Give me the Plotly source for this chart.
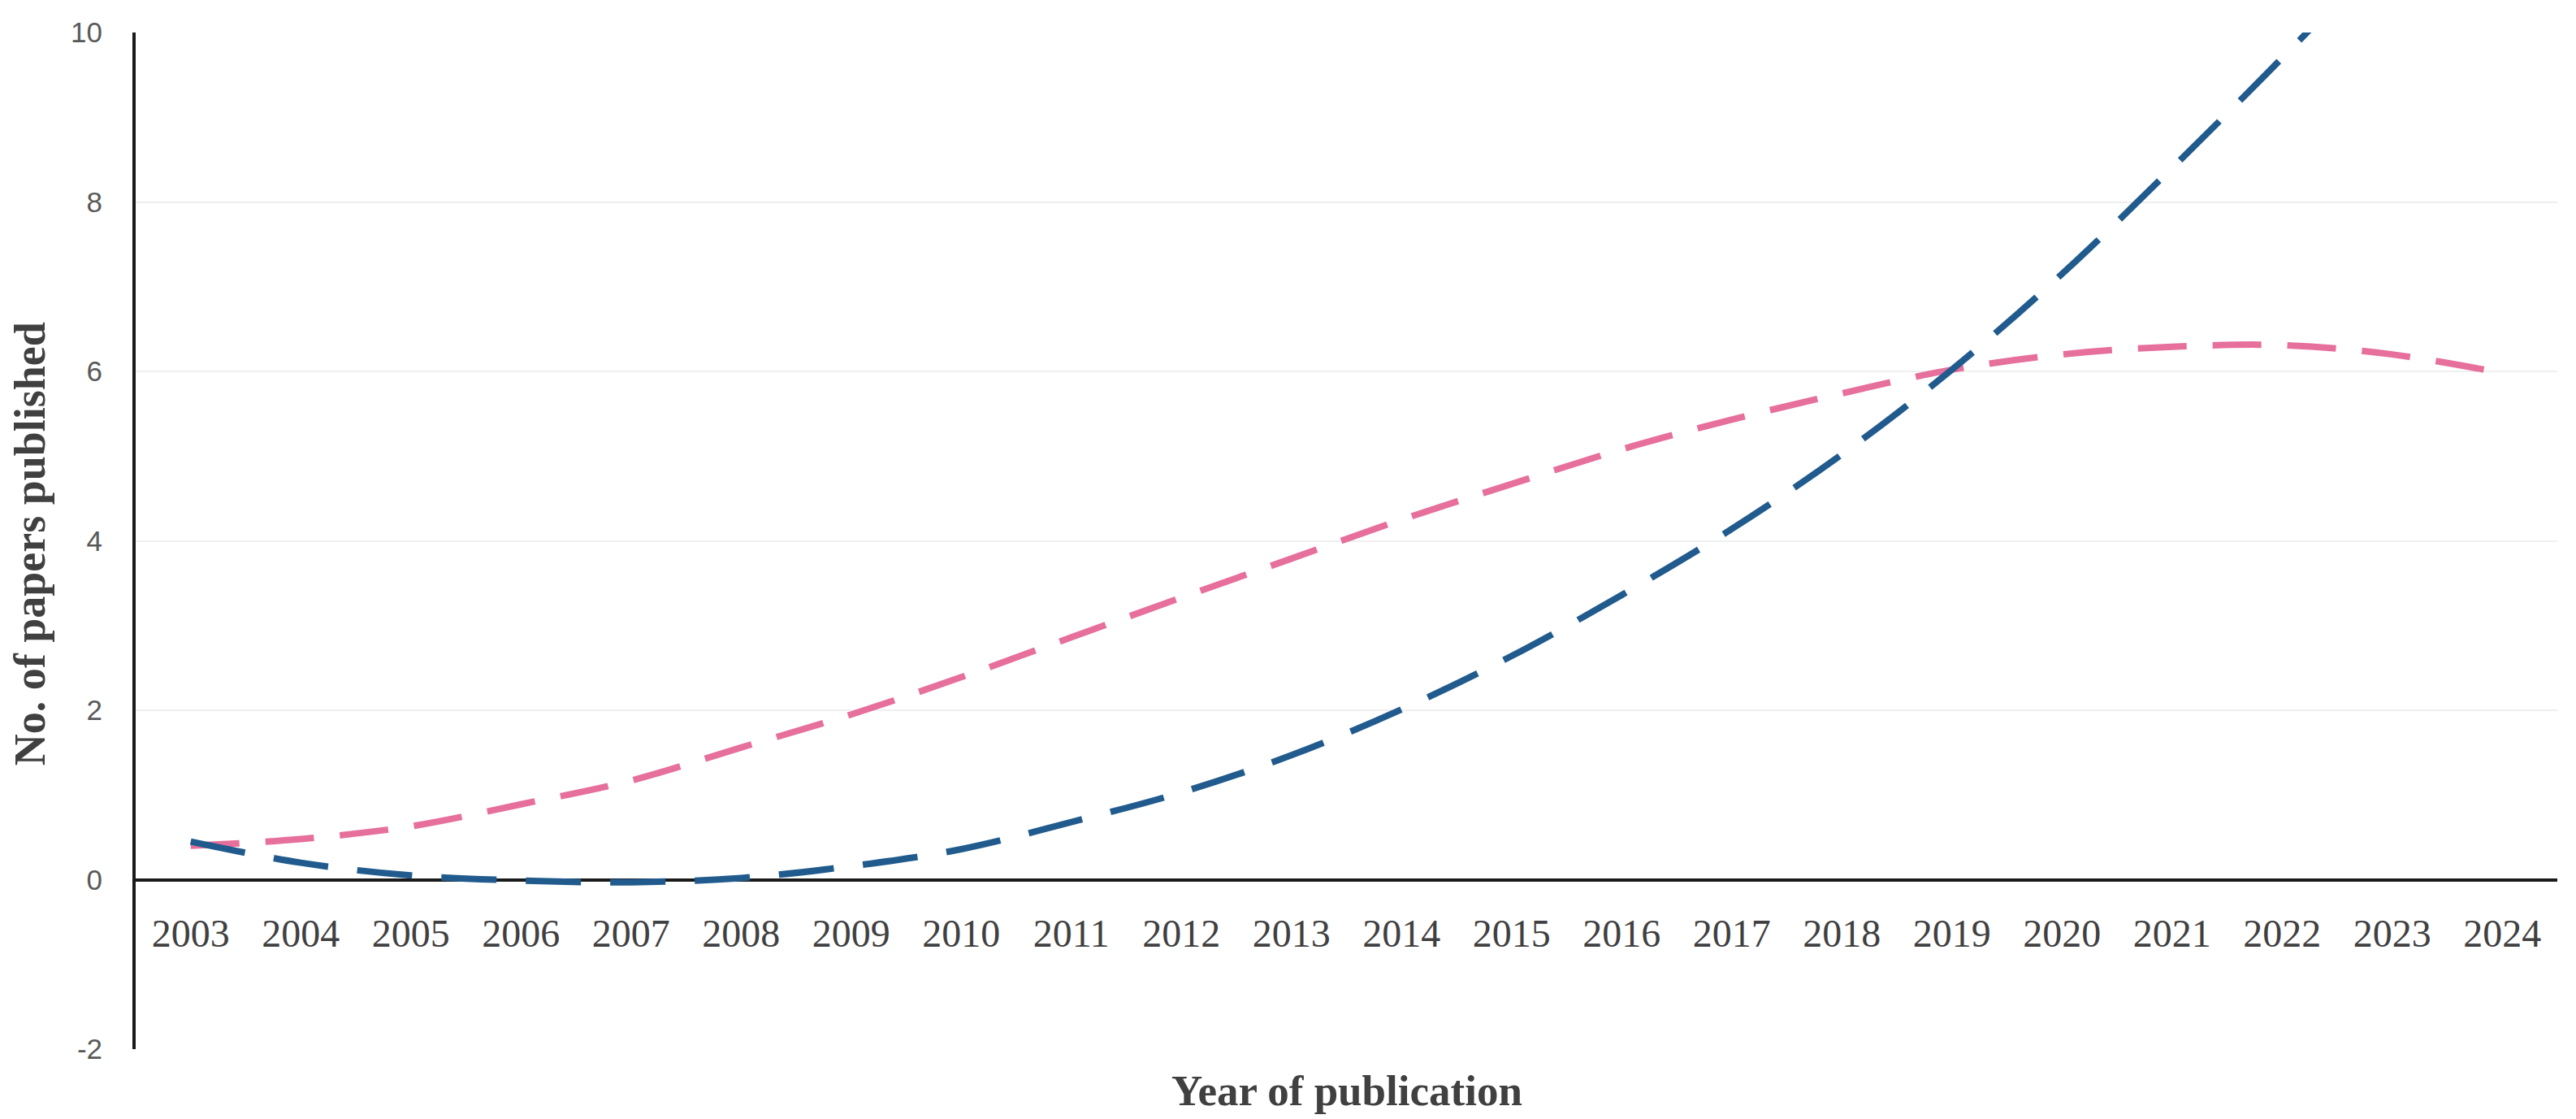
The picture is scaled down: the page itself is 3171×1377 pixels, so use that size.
import plotly.graph_objects as go

years = [str(y) for y in range(2003, 2025)]
# trend line values (blue leaves the plot above 10)
blue_trend = [0.45, 0.20, 0.05, -0.01, -0.03, 0.02, 0.16, 0.36, 0.68, 1.03, 1.47,
              2.01, 2.64, 3.36, 4.14, 5.02, 6.02, 7.15, 8.40, 9.70, 11.05, 12.50]
pink_trend = [0.40, 0.48, 0.63, 0.89, 1.17, 1.56, 1.95, 2.39, 2.86, 3.33, 3.79,
              4.25, 4.67, 5.08, 5.43, 5.74, 6.02, 6.20, 6.29, 6.31, 6.20, 5.98]
y_ticks = [-2, 0, 2, 4, 6, 8, 10]
y_tick_text = ["-2", "0", "2", "4", "6", "8", "10"]

fig = go.Figure()
fig.add_trace(go.Scatter(x=years, y=pink_trend, mode="lines", name="Trend (pink)",
                         line=dict(color="#E66F9C", width=8, dash="60px,32px", shape="spline", smoothing=1),
                         showlegend=False))
fig.add_trace(go.Scatter(x=years, y=blue_trend, mode="lines", name="Trend (blue)",
                         line=dict(color="#215B8D", width=8, dash="68px,36px", shape="spline", smoothing=1),
                         showlegend=False))

fig.update_layout(
    width=3171, height=1377,
    margin=dict(l=167, r=23, t=40, b=86),
    plot_bgcolor="white", paper_bgcolor="white",
    xaxis=dict(type="category", range=[-0.5, 21.5], anchor="free", position=2/12,
               showline=False, showgrid=False, zeroline=False, ticks="",
               ticklabelstandoff=33,
               tickfont=dict(family="Liberation Serif", size=48, color="#404040")),
    yaxis=dict(range=[-2, 10], tickvals=y_ticks, ticktext=y_tick_text,
               showgrid=True, gridcolor="#EFEFEF", gridwidth=2,
               zeroline=True, zerolinecolor="#1a1a1a", zerolinewidth=4,
               showline=True, linecolor="#1a1a1a", linewidth=4, ticks="",
               ticklabelstandoff=30,
               tickfont=dict(family="Liberation Sans", size=35, color="#595959")),
    annotations=[
        dict(text="<b>Year of publication</b>", xref="paper", yref="paper", x=0.5, y=-0.041,
             xanchor="center", yanchor="middle", showarrow=False,
             font=dict(family="Liberation Serif", size=53, color="#404040")),
        dict(text="<b>No. of papers published</b>", xref="paper", yref="paper", x=-0.0436, y=0.497,
             textangle=-90, xanchor="center", yanchor="middle", showarrow=False,
             font=dict(family="Liberation Serif", size=54, color="#404040")),
    ],
)

fig.write_html("out.html", post_script="document.body.style.margin='0';",
               config={"displayModeBar": False})
